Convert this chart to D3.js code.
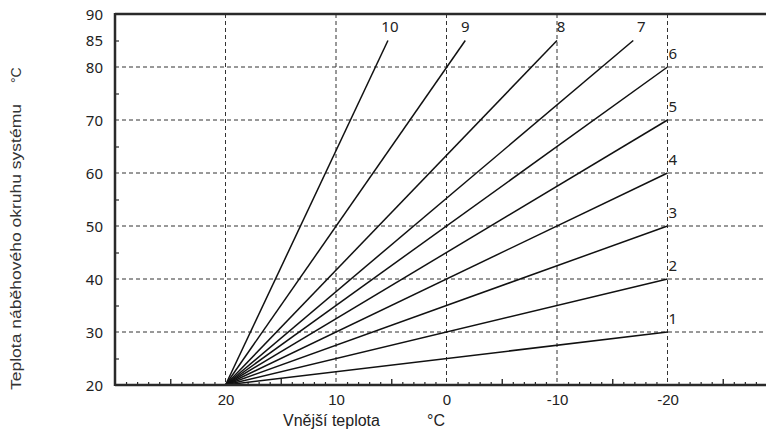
<!DOCTYPE html>
<html>
<head>
<meta charset="utf-8">
<script src="https://cdn.jsdelivr.net/npm/d3@7"></script>
<style>
  html, body { margin: 0; padding: 0; background: #fff; }
  svg { display: block; }
</style>
</head>
<body>
<svg id="chart" width="766" height="437"></svg>
<script>
// ---- data ----
const curveNames = ["1", "2", "3", "4", "5", "6", "7", "8", "9", "10"];
const startOutdoor = 20;     // all curves start at outdoor 20 °C
const startFlow = 20;        // ... and flow 20 °C
const endOutdoor = [-20, -20, -20, -20, -20, -20, -16.9, -10, -1.7, 5.3];
const endFlow = [30, 40, 50, 60, 70, 80, 85, 85, 85, 85];
const xTickLabels = [20, 10, 0, -10, -20];
const yTickLabels = [20, 30, 40, 50, 60, 70, 80, 85, 90];
const yGrid = [30, 40, 50, 60, 70, 80];
const yMinorTicks = [25, 35, 45, 55, 65, 75, 85];
const xTitle = "Vnější teplota";
const yTitle = "Teplota náběhového okruhu systému";
const unit = "°C";
// label pixel offsets (layout only)
const labelDx = [1, 1, 1, 1, 1, 1, 8, 4, 0, 2];

// ---- layout ----
const svg = d3.select("#chart");
const x = d3.scaleLinear().domain([30, -30]).range([115, 778]);
const y = d3.scaleLinear().domain([20, 90]).range([385, 14]);
const gridColor = "#333";
const axisColor = "#2a2a2a";

// vertical gridlines
svg.append("g").selectAll("line").data(xTickLabels).join("line")
  .attr("x1", d => x(d)).attr("x2", d => x(d))
  .attr("y1", y(90)).attr("y2", y(20))
  .attr("stroke", gridColor).attr("stroke-width", 1)
  .attr("stroke-dasharray", "4,3");

// horizontal gridlines
svg.append("g").selectAll("line").data(yGrid).join("line")
  .attr("x1", x(30)).attr("x2", 766)
  .attr("y1", d => y(d)).attr("y2", d => y(d))
  .attr("stroke", gridColor).attr("stroke-width", 1)
  .attr("stroke-dasharray", "4,3");

// x minor ticks (every degree) and medium ticks (every 5)
const xMinor = d3.range(-30, 31).filter(d => d % 5 !== 0);
const xMid = d3.range(-30, 31, 5).filter(d => d % 10 !== 0);
svg.append("g").attr("transform", `translate(0,${y(20)})`)
  .call(d3.axisBottom(x).tickValues(xMinor).tickSize(-3).tickFormat(""))
  .call(g => g.select(".domain").remove())
  .call(g => g.selectAll("line").attr("stroke", axisColor).attr("stroke-width", 1.2));
svg.append("g").attr("transform", `translate(0,${y(20)})`)
  .call(d3.axisBottom(x).tickValues(xMid).tickSize(-6).tickFormat(""))
  .call(g => g.select(".domain").remove())
  .call(g => g.selectAll("line").attr("stroke", axisColor).attr("stroke-width", 1.4));

// x labels
const xAx = svg.append("g").attr("transform", `translate(0,${y(20)})`)
  .call(d3.axisBottom(x).tickValues(xTickLabels).tickSize(0).tickPadding(9).tickFormat(d => String(d)));
xAx.select(".domain").remove();
xAx.selectAll("text").attr("font-family", "Liberation Sans, Arial, sans-serif")
  .attr("font-size", 15).attr("fill", "#222");

// y minor ticks
svg.append("g").attr("transform", `translate(${x(30)},0)`)
  .call(d3.axisLeft(y).tickValues(yMinorTicks).tickSize(-4).tickFormat(""))
  .call(g => g.select(".domain").remove())
  .call(g => g.selectAll("line").attr("stroke", axisColor).attr("stroke-width", 1.2));

// y labels
const yAx = svg.append("g").attr("transform", `translate(${x(30)},0)`)
  .call(d3.axisLeft(y).tickValues(yTickLabels).tickSize(0).tickPadding(12).tickFormat(d => String(d)));
yAx.select(".domain").remove();
yAx.selectAll("text").attr("font-family", "Noto Sans, Open Sans, sans-serif")
  .attr("font-size", 15).attr("fill", "#222").attr("dy", "0.36em");

// curves
const curves = curveNames.map((n, i) => ({
  name: n,
  pts: [[startOutdoor, startFlow], [endOutdoor[i], endFlow[i]]],
  dx: labelDx[i],
  ex: endOutdoor[i], ey: endFlow[i]
}));
const line = d3.line().x(d => x(d[0])).y(d => y(d[1]));
svg.append("g").selectAll("path").data(curves).join("path")
  .attr("d", d => line(d.pts))
  .attr("fill", "none").attr("stroke", "#111").attr("stroke-width", 1.5);

// curve labels
svg.append("g").selectAll("text").data(curves).join("text")
  .attr("x", d => x(d.ex) + d.dx)
  .attr("y", d => d.ey < 85 ? y(d.ey) - 8 : y(d.ey) - 9)
  .attr("text-anchor", d => d.ey < 85 ? "start" : "middle")
  .attr("font-family", "Noto Sans, Open Sans, sans-serif")
  .attr("font-size", 15).attr("fill", "#222")
  .text(d => d.name);

// axes frame: left, bottom, top
svg.append("line").attr("x1", x(30)).attr("x2", x(30)).attr("y1", y(90) - 1).attr("y2", y(20) + 1)
  .attr("stroke", axisColor).attr("stroke-width", 2.5);
svg.append("line").attr("x1", x(30)).attr("x2", 766).attr("y1", y(20)).attr("y2", y(20))
  .attr("stroke", axisColor).attr("stroke-width", 2.5);
svg.append("line").attr("x1", x(30)).attr("x2", 766).attr("y1", y(90)).attr("y2", y(90))
  .attr("stroke", axisColor).attr("stroke-width", 2.5);

// axis titles
svg.append("text").attr("x", 283).attr("y", 426)
  .attr("font-family", "Liberation Sans, Arial, sans-serif").attr("font-size", 16).attr("fill", "#222")
  .text(xTitle);
svg.append("text").attr("x", 427).attr("y", 426)
  .attr("font-family", "Liberation Sans, Arial, sans-serif").attr("font-size", 16).attr("fill", "#222")
  .text(unit);
svg.append("text").attr("transform", "translate(21,390) rotate(-90)")
  .attr("font-family", "Liberation Sans, Arial, sans-serif").attr("font-size", 14).attr("fill", "#333")
  .attr("textLength", 286).attr("lengthAdjust", "spacingAndGlyphs")
  .text(yTitle);
svg.append("text").attr("transform", "translate(21,83) rotate(-90)")
  .attr("font-family", "Liberation Sans, Arial, sans-serif").attr("font-size", 14).attr("fill", "#333")
  .text(unit);
</script>
</body>
</html>
